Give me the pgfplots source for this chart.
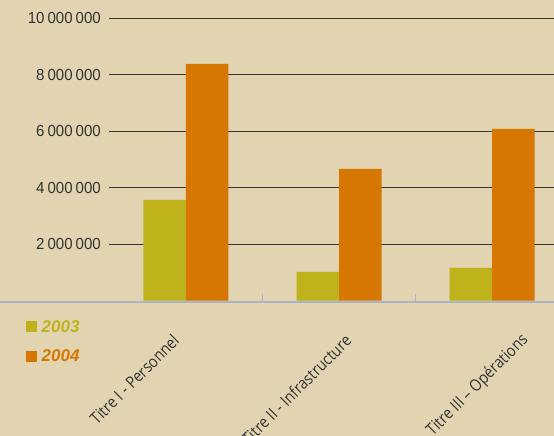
\documentclass[border=0pt]{standalone}
\usepackage{fontspec}
\setmainfont{Liberation Sans}
\newfontfamily\numfont[FakeStretch=0.94]{Liberation Sans}
\newfontfamily\labfont[FakeStretch=0.87]{Open Sans}
\usepackage{pgfplots}
\pgfplotsset{compat=1.18}
\definecolor{bg}{RGB}{226,212,176}
\definecolor{cA}{RGB}{191,179,28}
\definecolor{cB}{RGB}{213,119,0}
\definecolor{gridc}{RGB}{55,55,55}
\definecolor{axl}{RGB}{170,180,196}
\definecolor{txt}{RGB}{51,51,51}
\begin{document}
\begin{tikzpicture}[x=1pt,y=1pt]
\fill[bg] (0,0) rectangle (554,436);
\useasboundingbox (0,0) rectangle (554,436);
\begin{axis}[
  at={(109pt,135.3pt)}, anchor=south west,
  scale only axis, width=445pt, height=282.3pt,
  xmin=-0.503, xmax=2.405, ymin=0, ymax=10000000,
  axis x line*=bottom, axis y line*=left,
  y axis line style={draw=none},
  x axis line style={draw=axl, line width=2pt, shorten <=-109pt, yshift=-1.5pt},
  ytick={2000000,4000000,6000000,8000000,10000000},
  scaled y ticks=false,
  ymajorgrids, grid style={draw=gridc, line width=1.2pt},
  major tick length=0pt,
  yticklabel style={font=\numfont\fontsize{16}{18}\selectfont, text=txt, inner sep=0pt, xshift=-8pt},
  /pgf/number format/fixed, /pgf/number format/precision=0,
  /pgf/number format/1000 sep={\kern3pt},
  /pgf/number format/assume math mode=true,
  xtick={-0.065,1.06,2.22},
  xticklabels={Titre I - Personnel, Titre II - Infrastructure, Titre III – Opérations},
  xticklabel style={yshift=-37pt, rotate=45, anchor=east, inner sep=0pt, font=\labfont\fontsize{16.5}{18}\selectfont, text=txt},
  extra x ticks={0.5,1.5}, extra x tick labels={},
  extra x tick style={major tick length=7pt, tick align=inside, tick style={draw=axl, line width=1pt}},
  ybar, bar width=42.5pt,
  legend style={at={(axis description cs:-0.1865,-0.065)}, anchor=north west, draw=none, fill=none,
    font=\fontsize{17}{18}\selectfont\bfseries\itshape, row sep=14pt, column sep=3.5pt, inner sep=0pt,
    nodes={inner sep=1pt}},
  legend cell align=left,
]
\addplot[fill=cA, draw=none, bar shift=-21.25pt,
  legend image code/.code={\fill[cA] (0pt,-5.5pt) rectangle (11pt,5.5pt);}]
  coordinates {(0,3570000) (1,1020000) (2,1160000)};
\addlegendentry{\textcolor{cA}{2003}}
\addplot[fill=cB, draw=none, bar shift=21.25pt,
  legend image code/.code={\fill[cB] (0pt,-5.5pt) rectangle (11pt,5.5pt);}]
  coordinates {(0,8390000) (1,4670000) (2,6090000)};
\addlegendentry{\textcolor{cB}{2004}}
\end{axis}
\end{tikzpicture}
\end{document}
